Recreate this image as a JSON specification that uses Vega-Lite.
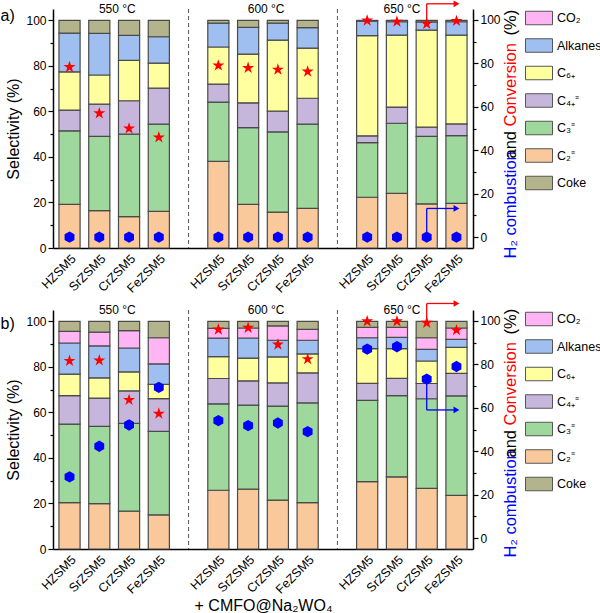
{
  "$schema": "https://vega.github.io/schema/vega-lite/v6.json",
  "padding": {"left": 0, "top": 0, "right": 2, "bottom": 2},
  "bounds": "flush",
  "spacing": 62,
  "config": {
    "font": "Liberation Sans",
    "view": {"stroke": null},
    "axis": {"domainColor": "#000", "domainWidth": 1.5, "tickColor": "#000", "tickWidth": 1.2, "labelColor": "#000", "labelFontSize": 12, "titleFontSize": 16, "titleFontWeight": "normal", "titleColor": "#000", "grid": false, "tickSize": 5}
  },
  "datasets": {
    "ranks": [{"comp": "C2", "r": 1}, {"comp": "C3", "r": 2}, {"comp": "C4", "r": 3}, {"comp": "C6", "r": 4}, {"comp": "Alkanes", "r": 5}, {"comp": "CO2", "r": 6}, {"comp": "Coke", "r": 7}],
    "barsA": [
      {"key": "550|HZSM5", "C2": 19.2, "C3": 32.3, "C4": 9.1, "C6": 16.8, "Alkanes": 17.0, "CO2": 0, "Coke": 5.6},
      {"key": "550|SrZSM5", "C2": 16.4, "C3": 32.6, "C4": 14.2, "C6": 12.8, "Alkanes": 18.3, "CO2": 0, "Coke": 5.7},
      {"key": "550|CrZSM5", "C2": 13.8, "C3": 36.2, "C4": 14.7, "C6": 17.7, "Alkanes": 11.0, "CO2": 0, "Coke": 6.6},
      {"key": "550|FeZSM5", "C2": 16.1, "C3": 38.3, "C4": 15.8, "C6": 11.0, "Alkanes": 11.6, "CO2": 0, "Coke": 7.2},
      {"key": "600|HZSM5", "C2": 38.1, "C3": 26.0, "C4": 7.9, "C6": 16.3, "Alkanes": 10.5, "CO2": 0, "Coke": 1.2},
      {"key": "600|SrZSM5", "C2": 19.2, "C3": 33.7, "C4": 10.9, "C6": 21.4, "Alkanes": 11.7, "CO2": 0, "Coke": 3.1},
      {"key": "600|CrZSM5", "C2": 15.8, "C3": 35.2, "C4": 9.1, "C6": 31.2, "Alkanes": 7.5, "CO2": 0, "Coke": 1.2},
      {"key": "600|FeZSM5", "C2": 17.4, "C3": 37.0, "C4": 11.4, "C6": 22.0, "Alkanes": 9.0, "CO2": 0, "Coke": 3.2},
      {"key": "650|HZSM5", "C2": 22.3, "C3": 24.0, "C4": 3.0, "C6": 44.0, "Alkanes": 6.4, "CO2": 0, "Coke": 0.3},
      {"key": "650|SrZSM5", "C2": 24.0, "C3": 30.8, "C4": 7.1, "C6": 31.6, "Alkanes": 5.9, "CO2": 0, "Coke": 0.6},
      {"key": "650|CrZSM5", "C2": 19.4, "C3": 29.6, "C4": 4.1, "C6": 42.6, "Alkanes": 3.6, "CO2": 0, "Coke": 0.7},
      {"key": "650|FeZSM5", "C2": 19.6, "C3": 29.8, "C4": 5.1, "C6": 39.0, "Alkanes": 5.9, "CO2": 0, "Coke": 0.6}
    ],
    "barsB": [
      {"key": "550|HZSM5", "C2": 20.4, "C3": 34.5, "C4": 12.5, "C6": 9.4, "Alkanes": 13.7, "CO2": 5.1, "Coke": 4.4},
      {"key": "550|SrZSM5", "C2": 19.9, "C3": 34.0, "C4": 12.4, "C6": 8.9, "Alkanes": 14.0, "CO2": 6.1, "Coke": 4.7},
      {"key": "550|CrZSM5", "C2": 16.6, "C3": 38.6, "C4": 14.3, "C6": 8.3, "Alkanes": 10.5, "CO2": 7.6, "Coke": 4.1},
      {"key": "550|FeZSM5", "C2": 15.0, "C3": 36.7, "C4": 14.4, "C6": 6.2, "Alkanes": 9.0, "CO2": 11.5, "Coke": 7.2},
      {"key": "600|HZSM5", "C2": 25.8, "C3": 38.0, "C4": 11.1, "C6": 9.6, "Alkanes": 8.1, "CO2": 4.3, "Coke": 3.1},
      {"key": "600|SrZSM5", "C2": 26.3, "C3": 36.9, "C4": 10.7, "C6": 10.0, "Alkanes": 8.8, "CO2": 4.4, "Coke": 2.9},
      {"key": "600|CrZSM5", "C2": 21.5, "C3": 41.3, "C4": 10.2, "C6": 11.4, "Alkanes": 7.3, "CO2": 6.3, "Coke": 2.0},
      {"key": "600|FeZSM5", "C2": 20.4, "C3": 43.8, "C4": 13.2, "C6": 8.3, "Alkanes": 6.0, "CO2": 4.8, "Coke": 3.5},
      {"key": "650|HZSM5", "C2": 29.6, "C3": 35.7, "C4": 7.5, "C6": 15.2, "Alkanes": 4.8, "CO2": 4.6, "Coke": 2.6},
      {"key": "650|SrZSM5", "C2": 31.7, "C3": 35.7, "C4": 7.6, "C6": 13.0, "Alkanes": 5.0, "CO2": 4.4, "Coke": 2.6},
      {"key": "650|CrZSM5", "C2": 26.6, "C3": 39.4, "C4": 6.7, "C6": 9.9, "Alkanes": 5.1, "CO2": 5.1, "Coke": 7.2},
      {"key": "650|FeZSM5", "C2": 23.6, "C3": 43.7, "C4": 9.9, "C6": 11.4, "Alkanes": 3.5, "CO2": 5.0, "Coke": 2.9}
    ],
    "ptsA": [
      {"key": "550|HZSM5", "conv": 78.3, "h2": 0},
      {"key": "550|SrZSM5", "conv": 57.0, "h2": 0},
      {"key": "550|CrZSM5", "conv": 50.0, "h2": 0},
      {"key": "550|FeZSM5", "conv": 45.9, "h2": 0},
      {"key": "600|HZSM5", "conv": 79.0, "h2": 0},
      {"key": "600|SrZSM5", "conv": 77.9, "h2": 0},
      {"key": "600|CrZSM5", "conv": 77.1, "h2": 0},
      {"key": "600|FeZSM5", "conv": 76.2, "h2": 0},
      {"key": "650|HZSM5", "conv": 99.7, "h2": 0},
      {"key": "650|SrZSM5", "conv": 99.2, "h2": 0},
      {"key": "650|CrZSM5", "conv": 98.2, "h2": 0},
      {"key": "650|FeZSM5", "conv": 99.5, "h2": 0}
    ],
    "ptsB": [
      {"key": "550|HZSM5", "conv": 81.6, "h2": 28.2},
      {"key": "550|SrZSM5", "conv": 81.8, "h2": 42.3},
      {"key": "550|CrZSM5", "conv": 63.6, "h2": 52.1},
      {"key": "550|FeZSM5", "conv": 57.3, "h2": 69.4},
      {"key": "600|HZSM5", "conv": 96.0, "h2": 54.1},
      {"key": "600|SrZSM5", "conv": 96.8, "h2": 51.8},
      {"key": "600|CrZSM5", "conv": 89.1, "h2": 53.0},
      {"key": "600|FeZSM5", "conv": 82.4, "h2": 49.0},
      {"key": "650|HZSM5", "conv": 99.8, "h2": 87.0},
      {"key": "650|SrZSM5", "conv": 99.8, "h2": 88.1},
      {"key": "650|CrZSM5", "conv": 99.1, "h2": 73.2},
      {"key": "650|FeZSM5", "conv": 95.7, "h2": 79.0}
    ],
    "arrowsA": [
      {"key": "650|CrZSM5", "key2": "650|CrZSM5", "y": 98.2, "y2": 107.4, "s": "conv"},
      {"key": "650|CrZSM5", "key2": "650|FeZSM5", "y": 107.4, "y2": 107.4, "s": "conv"},
      {"key": "650|CrZSM5", "key2": "650|CrZSM5", "y": 0, "y2": 13.2, "s": "h2"},
      {"key": "650|CrZSM5", "key2": "650|FeZSM5", "y": 13.2, "y2": 13.2, "s": "h2"}
    ],
    "arrowsB": [
      {"key": "650|CrZSM5", "key2": "650|CrZSM5", "y": 99.1, "y2": 108, "s": "conv"},
      {"key": "650|CrZSM5", "key2": "650|FeZSM5", "y": 108, "y2": 108, "s": "conv"},
      {"key": "650|CrZSM5", "key2": "650|CrZSM5", "y": 73.2, "y2": 59, "s": "h2"},
      {"key": "650|CrZSM5", "key2": "650|FeZSM5", "y": 59, "y2": 59, "s": "h2"}
    ],
    "gaps": [{"key": "g1"}, {"key": "g2"}],
    "temps": [{"key": "550|SrZSM5", "t": "550 °C"}, {"key": "600|SrZSM5", "t": "600 °C"}],
    "temps650": [{"key": "650|SrZSM5", "t": "650 °C"}]
  },
  "vconcat": [
    {
      "width": 420, "height": 239,
      "encoding": {
        "x": {"field": "key", "type": "nominal",
          "scale": {"domain": ["550|HZSM5","550|SrZSM5","550|CrZSM5","550|FeZSM5","g1","600|HZSM5","600|SrZSM5","600|CrZSM5","600|FeZSM5","g2","650|HZSM5","650|SrZSM5","650|CrZSM5","650|FeZSM5"], "paddingInner": 0.29, "paddingOuter": 0.2},
          "axis": {"title": null, "labelAngle": -45, "labelFontSize": 12.5, "ticks": false, "labelPadding": 4, "labelExpr": "indexof(datum.value, '|') > 0 ? split(datum.value, '|')[1] : ''"}}
      },
      "layer": [
        {
          "data": {"name": "barsA"},
          "transform": [{"fold": ["C2","C3","C4","C6","Alkanes","CO2","Coke"], "as": ["comp","v"]}, {"filter": "datum.v > 0"}, {"lookup": "comp", "from": {"data": {"name": "ranks"}, "key": "comp", "fields": ["r"]}}],
          "mark": {"type": "bar", "stroke": "#4a4a4a", "strokeWidth": 1.2},
          "encoding": {
            "y": {"field": "v", "type": "quantitative", "stack": "zero", "scale": {"domain": [0,105], "nice": false}, "axis": {"orient": "left", "values": [0,20,40,60,80,100], "title": "Selectivity (%)"}},
            "order": {"field": "r", "type": "quantitative", "sort": "ascending"},
            "color": {"field": "comp", "type": "nominal",
              "scale": {"domain": ["C2","C3","C4","C6","Alkanes","CO2","Coke"], "range": ["#f9c99b","#9fd89c","#c6b6dc","#ffff9f","#9ebff0","#ffb4f4","#b4b48c"]},
              "legend": {"orient": "none", "legendX": 472, "legendY": -5, "title": null, "values": ["CO2","Alkanes","C6","C4","C3","C2","Coke"], "symbolType": "M-1,-0.5H1V0.5H-1Z", "symbolSize": 729, "symbolStrokeColor": "#555", "symbolStrokeWidth": 1, "symbolOpacity": 1, "labelFontSize": 12.5, "rowPadding": 4.5, "labelOffset": 4,
                "labelExpr": "datum.label == 'CO2' ? 'CO₂' : datum.label == 'C6' ? 'C₆₊' : datum.label == 'C4' ? 'C₄₊⁼' : datum.label == 'C3' ? 'C₃⁼' : datum.label == 'C2' ? 'C₂⁼' : datum.label"}}
          }
        },
        {
          "data": {"name": "barsA"},
          "mark": {"type": "point", "opacity": 0},
          "encoding": {"y": {"datum": 50, "type": "quantitative", "scale": {"domain": [0,105], "nice": false}, "axis": {"orient": "left", "values": [10,30,50,70,90], "labels": false, "domain": false, "tickSize": 3, "title": "a)", "titleAngle": 0, "titleAlign": "left", "titleBaseline": "middle", "titleX": -53, "titleY": 6}}}
        },
        {
          "data": {"name": "gaps"},
          "mark": {"type": "rule", "strokeDash": [4,3], "color": "#555", "strokeWidth": 1},
          "encoding": {}
        },
        {
          "data": {"name": "temps"},
          "mark": {"type": "text", "dx": 18, "fontSize": 12, "baseline": "middle"},
          "encoding": {"y": {"datum": 105, "type": "quantitative", "scale": {"domain": [0,105], "nice": false}, "axis": null}, "text": {"field": "t"}}
        },
        {
          "data": {"name": "temps650"},
          "mark": {"type": "text", "dx": 5, "fontSize": 12, "baseline": "middle"},
          "encoding": {"y": {"datum": 105, "type": "quantitative", "scale": {"domain": [0,105], "nice": false}, "axis": null}, "text": {"field": "t"}}
        },
        {
          "data": {"name": "arrowsA"},
          "mark": {"type": "rule", "strokeWidth": 1.3},
          "encoding": {
            "x2": {"field": "key2"},
            "y": {"field": "y", "type": "quantitative", "scale": {"domain": [-5,105], "nice": false, "zero": false}, "axis": null},
            "y2": {"field": "y2"},
            "stroke": {"field": "s", "type": "nominal", "scale": {"domain": ["conv","h2"], "range": ["#ff0000","#0000ff"]}, "legend": null}
          }
        },
        {
          "data": {"name": "arrowsA"},
          "transform": [{"filter": "datum.key != datum.key2"}],
          "mark": {"type": "point", "shape": "triangle-right", "filled": true, "size": 45, "opacity": 1},
          "encoding": {
            "x": {"field": "key2", "type": "nominal"},
            "y": {"field": "y", "type": "quantitative", "scale": {"domain": [-5,105], "nice": false, "zero": false}, "axis": null},
            "fill": {"field": "s", "type": "nominal", "scale": {"domain": ["conv","h2"], "range": ["#ff0000","#0000ff"]}, "legend": null}
          }
        },
        {
          "data": {"name": "ptsA"},
          "mark": {"type": "point", "shape": "M0,-1L0.2245,-0.309L0.951,-0.309L0.363,0.118L0.588,0.809L0,0.382L-0.588,0.809L-0.363,0.118L-0.951,-0.309L-0.2245,-0.309Z", "filled": true, "color": "#ff0000", "size": 160, "opacity": 1},
          "encoding": {"y": {"field": "conv", "type": "quantitative", "scale": {"domain": [-5,105], "nice": false, "zero": false},
            "axis": {"orient": "right", "values": [0,20,40,60,80,100], "title": "H₂ combustion", "titleColor": "#0000ff", "titleFontSize": 16.5, "titleAngle": 270, "titleAlign": "left", "titleBaseline": "middle", "titleX": 37, "titleY": 249}}}
        },
        {
          "data": {"name": "ptsA"},
          "mark": {"type": "point", "shape": "M0,-1L0.866,-0.5L0.866,0.5L0,1L-0.866,0.5L-0.866,-0.5Z", "filled": true, "color": "#0000ff", "size": 130, "opacity": 1},
          "encoding": {"y": {"field": "h2", "type": "quantitative", "scale": {"domain": [-5,105], "nice": false, "zero": false},
            "axis": {"orient": "right", "values": [10,30,50,70,90], "labels": false, "domain": false, "tickSize": 3, "title": "and", "titleFontSize": 16.5, "titleAngle": 270, "titleAlign": "left", "titleBaseline": "middle", "titleX": 37, "titleY": 149}}}
        },
        {
          "data": {"name": "ptsA"},
          "mark": {"type": "point", "opacity": 0},
          "encoding": {"y": {"datum": 50, "type": "quantitative", "scale": {"domain": [-5,105], "nice": false, "zero": false},
            "axis": {"orient": "right", "labels": false, "domain": false, "ticks": false, "title": "Conversion", "titleColor": "#ff0000", "titleFontSize": 16.5, "titleAngle": 270, "titleAlign": "left", "titleBaseline": "middle", "titleX": 37, "titleY": 117}}}
        },
        {
          "data": {"name": "ptsA"},
          "mark": {"type": "point", "opacity": 0},
          "encoding": {"y": {"datum": 50, "type": "quantitative", "scale": {"domain": [-5,105], "nice": false, "zero": false},
            "axis": {"orient": "right", "labels": false, "domain": false, "ticks": false, "title": "(%)", "titleFontSize": 16.5, "titleAngle": 270, "titleAlign": "left", "titleBaseline": "middle", "titleX": 37, "titleY": 26}}}
        }
      ],
      "resolve": {"scale": {"y": "independent"}, "axis": {"y": "independent"}}
    },
    {
      "width": 420, "height": 239,
      "encoding": {
        "x": {"field": "key", "type": "nominal",
          "scale": {"domain": ["550|HZSM5","550|SrZSM5","550|CrZSM5","550|FeZSM5","g1","600|HZSM5","600|SrZSM5","600|CrZSM5","600|FeZSM5","g2","650|HZSM5","650|SrZSM5","650|CrZSM5","650|FeZSM5"], "paddingInner": 0.29, "paddingOuter": 0.2},
          "axis": {"title": "+ CMFO@Na₂WO₄", "titlePadding": 2, "labelAngle": -45, "labelFontSize": 12.5, "ticks": false, "labelPadding": 4, "labelExpr": "indexof(datum.value, '|') > 0 ? split(datum.value, '|')[1] : ''"}}
      },
      "layer": [
        {
          "data": {"name": "barsB"},
          "transform": [{"fold": ["C2","C3","C4","C6","Alkanes","CO2","Coke"], "as": ["comp","v"]}, {"filter": "datum.v > 0"}, {"lookup": "comp", "from": {"data": {"name": "ranks"}, "key": "comp", "fields": ["r"]}}],
          "mark": {"type": "bar", "stroke": "#4a4a4a", "strokeWidth": 1.2},
          "encoding": {
            "y": {"field": "v", "type": "quantitative", "stack": "zero", "scale": {"domain": [0,105], "nice": false}, "axis": {"orient": "left", "values": [0,20,40,60,80,100], "title": "Selectivity (%)"}},
            "order": {"field": "r", "type": "quantitative", "sort": "ascending"},
            "color": {"field": "comp", "type": "nominal",
              "scale": {"domain": ["C2","C3","C4","C6","Alkanes","CO2","Coke"], "range": ["#f9c99b","#9fd89c","#c6b6dc","#ffff9f","#9ebff0","#ffb4f4","#b4b48c"]},
              "legend": {"orient": "none", "legendX": 472, "legendY": -5, "title": null, "values": ["CO2","Alkanes","C6","C4","C3","C2","Coke"], "symbolType": "M-1,-0.5H1V0.5H-1Z", "symbolSize": 729, "symbolStrokeColor": "#555", "symbolStrokeWidth": 1, "symbolOpacity": 1, "labelFontSize": 12.5, "rowPadding": 4.5, "labelOffset": 4,
                "labelExpr": "datum.label == 'CO2' ? 'CO₂' : datum.label == 'C6' ? 'C₆₊' : datum.label == 'C4' ? 'C₄₊⁼' : datum.label == 'C3' ? 'C₃⁼' : datum.label == 'C2' ? 'C₂⁼' : datum.label"}}
          }
        },
        {
          "data": {"name": "barsB"},
          "mark": {"type": "point", "opacity": 0},
          "encoding": {"y": {"datum": 50, "type": "quantitative", "scale": {"domain": [0,105], "nice": false}, "axis": {"orient": "left", "values": [10,30,50,70,90], "labels": false, "domain": false, "tickSize": 3, "title": "b)", "titleAngle": 0, "titleAlign": "left", "titleBaseline": "middle", "titleX": -53, "titleY": 13}}}
        },
        {
          "data": {"name": "gaps"},
          "mark": {"type": "rule", "strokeDash": [4,3], "color": "#555", "strokeWidth": 1},
          "encoding": {}
        },
        {
          "data": {"name": "temps"},
          "mark": {"type": "text", "dx": 18, "fontSize": 12, "baseline": "middle"},
          "encoding": {"y": {"datum": 105, "type": "quantitative", "scale": {"domain": [0,105], "nice": false}, "axis": null}, "text": {"field": "t"}}
        },
        {
          "data": {"name": "temps650"},
          "mark": {"type": "text", "dx": 5, "fontSize": 12, "baseline": "middle"},
          "encoding": {"y": {"datum": 105, "type": "quantitative", "scale": {"domain": [0,105], "nice": false}, "axis": null}, "text": {"field": "t"}}
        },
        {
          "data": {"name": "arrowsB"},
          "mark": {"type": "rule", "strokeWidth": 1.3},
          "encoding": {
            "x2": {"field": "key2"},
            "y": {"field": "y", "type": "quantitative", "scale": {"domain": [-5,105], "nice": false, "zero": false}, "axis": null},
            "y2": {"field": "y2"},
            "stroke": {"field": "s", "type": "nominal", "scale": {"domain": ["conv","h2"], "range": ["#ff0000","#0000ff"]}, "legend": null}
          }
        },
        {
          "data": {"name": "arrowsB"},
          "transform": [{"filter": "datum.key != datum.key2"}],
          "mark": {"type": "point", "shape": "triangle-right", "filled": true, "size": 45, "opacity": 1},
          "encoding": {
            "x": {"field": "key2", "type": "nominal"},
            "y": {"field": "y", "type": "quantitative", "scale": {"domain": [-5,105], "nice": false, "zero": false}, "axis": null},
            "fill": {"field": "s", "type": "nominal", "scale": {"domain": ["conv","h2"], "range": ["#ff0000","#0000ff"]}, "legend": null}
          }
        },
        {
          "data": {"name": "ptsB"},
          "mark": {"type": "point", "shape": "M0,-1L0.2245,-0.309L0.951,-0.309L0.363,0.118L0.588,0.809L0,0.382L-0.588,0.809L-0.363,0.118L-0.951,-0.309L-0.2245,-0.309Z", "filled": true, "color": "#ff0000", "size": 160, "opacity": 1},
          "encoding": {"y": {"field": "conv", "type": "quantitative", "scale": {"domain": [-5,105], "nice": false, "zero": false},
            "axis": {"orient": "right", "values": [0,20,40,60,80,100], "title": "H₂ combustion", "titleColor": "#0000ff", "titleFontSize": 16.5, "titleAngle": 270, "titleAlign": "left", "titleBaseline": "middle", "titleX": 37, "titleY": 247}}}
        },
        {
          "data": {"name": "ptsB"},
          "mark": {"type": "point", "shape": "M0,-1L0.866,-0.5L0.866,0.5L0,1L-0.866,0.5L-0.866,-0.5Z", "filled": true, "color": "#0000ff", "size": 130, "opacity": 1},
          "encoding": {"y": {"field": "h2", "type": "quantitative", "scale": {"domain": [-5,105], "nice": false, "zero": false},
            "axis": {"orient": "right", "values": [10,30,50,70,90], "labels": false, "domain": false, "tickSize": 3, "title": "and", "titleFontSize": 16.5, "titleAngle": 270, "titleAlign": "left", "titleBaseline": "middle", "titleX": 37, "titleY": 147}}}
        },
        {
          "data": {"name": "ptsB"},
          "mark": {"type": "point", "opacity": 0},
          "encoding": {"y": {"datum": 50, "type": "quantitative", "scale": {"domain": [-5,105], "nice": false, "zero": false},
            "axis": {"orient": "right", "labels": false, "domain": false, "ticks": false, "title": "Conversion", "titleColor": "#ff0000", "titleFontSize": 16.5, "titleAngle": 270, "titleAlign": "left", "titleBaseline": "middle", "titleX": 37, "titleY": 115}}}
        },
        {
          "data": {"name": "ptsB"},
          "mark": {"type": "point", "opacity": 0},
          "encoding": {"y": {"datum": 50, "type": "quantitative", "scale": {"domain": [-5,105], "nice": false, "zero": false},
            "axis": {"orient": "right", "labels": false, "domain": false, "ticks": false, "title": "(%)", "titleFontSize": 16.5, "titleAngle": 270, "titleAlign": "left", "titleBaseline": "middle", "titleX": 37, "titleY": 24}}}
        }
      ],
      "resolve": {"scale": {"y": "independent"}, "axis": {"y": "independent"}}
    }
  ],
  "resolve": {"scale": {"color": "independent"}, "legend": {"color": "independent"}}
}
